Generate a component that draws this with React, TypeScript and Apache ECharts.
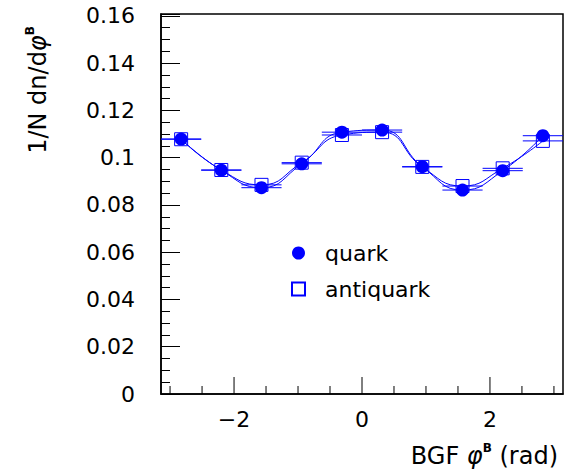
import React, { useEffect, useRef } from "react";
import * as echarts from "echarts";

// bin centres of BGF phi^B (rad), 10 bins of width pi/5
const binCenters = [-2.827, -2.199, -1.571, -0.942, -0.314, 0.314, 0.942, 1.571, 2.199, 2.827];
const binHalfWidth = 0.314;
const quark = [0.1079, 0.0947, 0.0873, 0.0974, 0.1108, 0.1117, 0.0962, 0.0863, 0.0945, 0.1093];
const antiquark = [0.1078, 0.0948, 0.0885, 0.0979, 0.1096, 0.1108, 0.0961, 0.088, 0.0955, 0.1071];
const seriesNames = ["quark", "antiquark"];
const xRange = [-Math.PI, Math.PI];
const yRange = [0, 0.1608];
const yMajorStep = 0.02;
// x-axis tick marks (minor every 0.5, labelled majors every 2)
const xTicks = [-3, -2.5, -2, -1.5, -1, -0.5, 0, 0.5, 1, 1.5, 2, 2.5, 3];
const xTickLabels = ["", "", "\u22122", "", "", "", "0", "", "", "", "2", "", ""];

export default function App() {
  const ref = useRef<HTMLDivElement>(null);
  useEffect(() => {
    const chart = echarts.init(ref.current!, null, { renderer: "svg" });
    const font = "DejaVu Sans";
    const blue = "#0000ff";
    const qData = binCenters.map((x, i) => [x, quark[i]]);
    const aData = binCenters.map((x, i) => [x, antiquark[i]]);

    const errBar = (name: string, data: number[][], z: number) => ({
      type: "custom",
      name: name + " err",
      data,
      encode: { x: 0, y: 1 },
      z,
      silent: true,
      clip: false,
      renderItem: (_p: any, api: any) => {
        const x = api.value(0);
        const y = api.value(1);
        const p1 = api.coord([x - binHalfWidth, y]);
        const p2 = api.coord([x + binHalfWidth, y]);
        return {
          type: "line",
          shape: { x1: p1[0], y1: p1[1], x2: p2[0], y2: p2[1] },
          style: { stroke: blue, lineWidth: 1 },
        };
      },
    });

    const rich = {
      m: { fontFamily: font, fontSize: 24, color: "#000", lineHeight: 28 },
      p: { fontFamily: font, fontSize: 24, fontStyle: "italic", color: "#000", lineHeight: 28 },
      s: { fontFamily: font, fontSize: 12, fontWeight: "bold", color: "#000", verticalAlign: "top", lineHeight: 16 },
    };

    const yLabel = (v: number) => {
      const k = v / yMajorStep;
      if (Math.abs(k - Math.round(k)) > 1e-6) return "";
      return String(Number(v.toFixed(2)));
    };

    chart.setOption({
      animation: false,
      backgroundColor: "#fff",
      grid: {
        left: 161,
        right: 17,
        top: 14,
        bottom: 77,
        show: true,
        borderColor: "#000",
        borderWidth: 1.5,
        backgroundColor: "transparent",
      },
      xAxis: {
        type: "value",
        min: xRange[0],
        max: xRange[1],
        axisLine: { show: true, onZero: false, lineStyle: { color: "#000", width: 1.5 } },
        axisTick: { show: false },
        axisLabel: { show: false },
        splitLine: { show: false },
      },
      yAxis: {
        type: "value",
        min: yRange[0],
        max: yRange[1],
        interval: yMajorStep,
        axisLine: { show: true, onZero: false, lineStyle: { color: "#000", width: 1.5 } },
        axisTick: { show: true, inside: true, length: 19, lineStyle: { color: "#000", width: 1 } },
        minorTick: { show: true, splitNumber: 4, length: 9, lineStyle: { color: "#000", width: 1 } },
        axisLabel: { formatter: yLabel, fontFamily: font, fontSize: 22, color: "#000", margin: 26 },
        splitLine: { show: false },
      },
      legend: {
        data: [
          { name: seriesNames[0], icon: "circle" },
          { name: seriesNames[1], icon: "rect" },
        ],
        orient: "vertical",
        left: 291,
        top: 242,
        padding: 0,
        itemWidth: 13,
        itemHeight: 13,
        itemGap: 14,
        selectedMode: false,
        textStyle: { fontFamily: font, fontSize: 22, color: "#000", lineHeight: 22, padding: [0, 0, 0, 15] },
      },
      graphic: [
        {
          type: "text",
          x: 38,
          y: 90,
          rotation: Math.PI / 2,
          style: {
            text: "{m|1/N dn/d}{p|\u03c6}{s|B}",
            rich,
            align: "center",
            verticalAlign: "middle",
          },
        },
        {
          type: "text",
          x: 558,
          y: 456,
          style: {
            text: "{m|BGF }{p|\u03c6}{s|B}{m| (rad)}",
            rich,
            align: "right",
            verticalAlign: "middle",
          },
        },
      ],
      series: [
        {
          type: "custom",
          name: "x ticks",
          data: xTicks.map((v, i) => [v, yRange[0], i]),
          encode: { x: 0, y: 1 },
          clip: false,
          silent: true,
          z: 6,
          renderItem: (_p: any, api: any) => {
            const v = api.value(0);
            const idx = api.value(2);
            const label = xTickLabels[idx];
            const p = api.coord([v, yRange[0]]);
            const len = label ? 17 : 8;
            const children: any[] = [
              {
                type: "line",
                shape: { x1: p[0], y1: p[1], x2: p[0], y2: p[1] - len },
                style: { stroke: "#000", lineWidth: 1 },
              },
            ];
            if (label) {
              children.push({
                type: "text",
                x: p[0],
                y: p[1] + 14,
                style: {
                  text: label,
                  fontFamily: font,
                  fontSize: 22,
                  fill: "#000",
                  align: "center",
                  verticalAlign: "top",
                },
              });
            }
            return { type: "group", children };
          },
        },
        {
          type: "line",
          name: "quark fit",
          data: qData,
          smooth: true,
          symbol: "none",
          lineStyle: { color: blue, width: 1 },
          z: 2,
          silent: true,
        },
        {
          type: "line",
          name: "antiquark fit",
          data: aData,
          smooth: true,
          symbol: "none",
          lineStyle: { color: blue, width: 1 },
          z: 2,
          silent: true,
        },
        errBar(seriesNames[1], aData, 3),
        errBar(seriesNames[0], qData, 3),
        {
          type: "scatter",
          name: seriesNames[1],
          data: aData,
          symbol: "rect",
          symbolSize: 13,
          itemStyle: { color: "rgba(255,255,255,0)", borderColor: blue, borderWidth: 1, opacity: 1 },
          z: 4,
        },
        {
          type: "scatter",
          name: seriesNames[0],
          data: qData,
          symbol: "circle",
          symbolSize: 13,
          itemStyle: { color: blue, opacity: 1 },
          z: 5,
        },
      ],
    });
    return () => chart.dispose();
  }, []);
  return <div ref={ref} style={{ position: "absolute", left: 0, top: 0, width: 580, height: 471 }} />;
}
